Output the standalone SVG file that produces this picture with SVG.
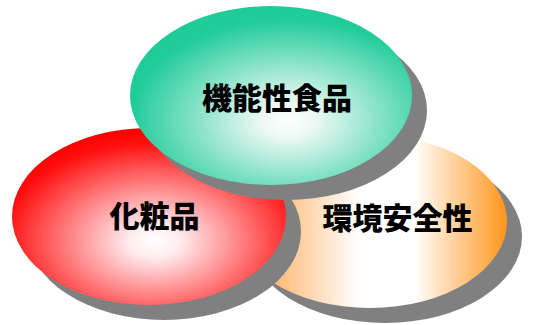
<svg xmlns="http://www.w3.org/2000/svg" width="535" height="325" viewBox="0 0 535 325">
<defs>
<radialGradient id="gGreen" cx="0.56" cy="0.63" r="0.62" fx="0.56" fy="0.64">
<stop offset="0" stop-color="#ffffff"/>
<stop offset="0.15" stop-color="#eef9f5"/>
<stop offset="0.9" stop-color="#20cc99"/>
<stop offset="1" stop-color="#1fcc99"/>
</radialGradient>
<radialGradient id="gRed" cx="0.52" cy="0.63" r="0.62" fx="0.52" fy="0.64">
<stop offset="0" stop-color="#ffffff"/>
<stop offset="0.15" stop-color="#ffecef"/>
<stop offset="0.88" stop-color="#ff1010"/>
<stop offset="1" stop-color="#ff0000"/>
</radialGradient>
<linearGradient id="gOrange" x1="0" y1="0" x2="1" y2="0">
<stop offset="0" stop-color="#ff9933"/>
<stop offset="0.46" stop-color="#ffffff"/>
<stop offset="0.66" stop-color="#ffffff"/>
<stop offset="1" stop-color="#ff961c"/>
</linearGradient>
<style>
.shadow{fill:#808080}
.lbl{font-family:"Noto Sans CJK JP","Noto Sans CJK SC",sans-serif;font-weight:900;font-size:30px;fill:#000;text-anchor:middle}
</style>
</defs>
<g id="connectors"/>
<g id="env">
<ellipse class="shadow" cx="385" cy="236.5" rx="137" ry="86.5"/>
<ellipse cx="370" cy="221.5" rx="137" ry="86.5" fill="url(#gOrange)"/>
<text class="lbl" x="397.5" y="229">環境安全性</text>
</g>
<g id="cosmetics">
<ellipse class="shadow" cx="164" cy="231.5" rx="137" ry="88.5"/>
<ellipse cx="149" cy="216.5" rx="137" ry="88.5" fill="url(#gRed)"/>
<text class="lbl" x="154.5" y="227">化粧品</text>
</g>
<g id="food">
<ellipse class="shadow" cx="286" cy="110.5" rx="141" ry="89.5"/>
<ellipse cx="271" cy="95.5" rx="141" ry="89.5" fill="url(#gGreen)"/>
<text class="lbl" x="277" y="109">機能性食品</text>
</g>
</svg>
